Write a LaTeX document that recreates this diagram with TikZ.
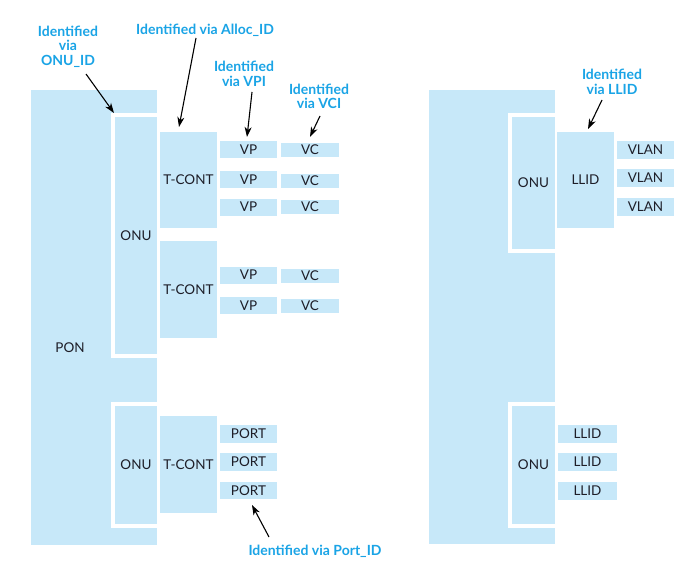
\documentclass[tikz,border=0pt]{standalone}
\usepackage{fontspec}
\setmainfont{Lato}
\usetikzlibrary{arrows.meta}
\definecolor{boxblue}{HTML}{C7E8F9}
\definecolor{labblue}{HTML}{1AA4E6}
\definecolor{ink}{HTML}{1E1E28}
\begin{document}
\begin{tikzpicture}[x=1pt,y=-1pt,
  fillbox/.style={fill=boxblue, draw=none, inner sep=0pt, outer sep=0pt, font=\fontsize{13.5}{14}\selectfont, text=ink},
  onubox/.style={fillbox, draw=white, line width=4pt},
  plain/.style={inner sep=0pt, font=\fontsize{13.5}{14}\selectfont, text=ink},
  idlabel/.style={font=\bfseries\fontsize{14}{14.5}\selectfont, text=labblue, align=center, inner sep=0pt},
  idarrow/.style={-{Stealth[length=10pt,width=7pt,inset=3pt]}, line width=1.1pt, black}]
\fill[white] (0,0) rectangle (698,575);
\useasboundingbox (0,0) rectangle (698,575);

% ---------- left: GPON ----------
\node[fillbox, minimum width=126pt, minimum height=455pt] (pon1) at (94,317.5) {};
\node[plain] (ponlab) at (70,348) {PON};
\node[onubox, minimum width=46pt, minimum height=241pt] (onu1) at (136,235.5) {ONU};
\node[onubox, minimum width=46pt, minimum height=122pt] (onu2) at (136,465) {ONU};

\node[fillbox, minimum width=57pt, minimum height=96pt] (tc1) at (188.5,180) {T-CONT};
\node[fillbox, minimum width=57pt, minimum height=97pt] (tc2) at (188.5,289.5) {T-CONT};
\node[fillbox, minimum width=57pt, minimum height=97pt] (tc3) at (188.5,464.5) {T-CONT};

\node[fillbox, minimum width=57pt, minimum height=17pt] (vp1) at (248.5,149.5) {VP};
\node[fillbox, minimum width=57pt, minimum height=17pt] (vp2) at (248.5,179.5) {VP};
\node[fillbox, minimum width=57pt, minimum height=17pt] (vp3) at (248.5,207) {VP};
\node[fillbox, minimum width=57pt, minimum height=17pt] (vp4) at (248.5,275) {VP};
\node[fillbox, minimum width=57pt, minimum height=17pt] (vp5) at (248.5,305.5) {VP};

\node[fillbox, minimum width=58pt, minimum height=14pt] (vc1) at (310,150) {VC};
\node[fillbox, minimum width=58pt, minimum height=14pt] (vc2) at (310,180.5) {VC};
\node[fillbox, minimum width=58pt, minimum height=14pt] (vc3) at (310,207) {VC};
\node[fillbox, minimum width=58pt, minimum height=14pt] (vc4) at (310,276) {VC};
\node[fillbox, minimum width=58pt, minimum height=14pt] (vc5) at (310,306) {VC};

\node[fillbox, minimum width=57pt, minimum height=18pt] (port1) at (248.5,434) {PORT};
\node[fillbox, minimum width=57pt, minimum height=18pt] (port2) at (248.5,462) {PORT};
\node[fillbox, minimum width=57pt, minimum height=17pt] (port3) at (248.5,490.5) {PORT};

% ---------- right: EPON ----------
\node[fillbox, minimum width=126pt, minimum height=454pt] (pon2) at (492,317) {};
\node[onubox, minimum width=47pt, minimum height=136pt] (onu3) at (533.5,183) {ONU};
\node[onubox, minimum width=47pt, minimum height=122pt] (onu4) at (533.5,465) {ONU};

\node[fillbox, minimum width=57pt, minimum height=96pt] (llid0) at (585.5,180) {LLID};
\node[fillbox, minimum width=57pt, minimum height=18pt] (vlan1) at (645.5,150) {VLAN};
\node[fillbox, minimum width=57pt, minimum height=18pt] (vlan2) at (645.5,178) {VLAN};
\node[fillbox, minimum width=57pt, minimum height=18pt] (vlan3) at (645.5,207) {VLAN};

\node[fillbox, minimum width=59pt, minimum height=18pt] (llid1) at (587.5,434) {LLID};
\node[fillbox, minimum width=59pt, minimum height=18pt] (llid2) at (587.5,462) {LLID};
\node[fillbox, minimum width=59pt, minimum height=18pt] (llid3) at (587.5,491) {LLID};

% ---------- labels ----------
\node[idlabel] (lonu) at (68,46.5) {Identified\\via\\ONU\_ID};
\node[idlabel] (lalloc) at (205,30) {Identified via Alloc\_ID};
\node[idlabel] (lvpi) at (244,74) {Identified\\via VPI};
\node[idlabel] (lvci) at (319,96.5) {Identified\\via VCI};
\node[idlabel] (lllid) at (612,82) {Identified\\via LLID};
\node[idlabel] (lport) at (315,551) {Identified via Port\_ID};

% ---------- arrows ----------
\coordinate (a1s) at (86,74);   \coordinate (a1e) at (114,113);
\coordinate (a2s) at (196,38);  \coordinate (a2e) at (179,127);
\coordinate (a3s) at (252,92);  \coordinate (a3e) at (247,137);
\coordinate (a4s) at (320,116); \coordinate (a4e) at (310,137);
\coordinate (a5s) at (602,100); \coordinate (a5e) at (588,129);
\coordinate (a6s) at (269,537); \coordinate (a6e) at (252,505);
\draw[idarrow] (a1s) -- (a1e);
\draw[idarrow] (a2s) -- (a2e);
\draw[idarrow] (a3s) -- (a3e);
\draw[idarrow] (a4s) -- (a4e);
\draw[idarrow] (a5s) -- (a5e);
\draw[idarrow] (a6s) -- (a6e);
\end{tikzpicture}
\end{document}
